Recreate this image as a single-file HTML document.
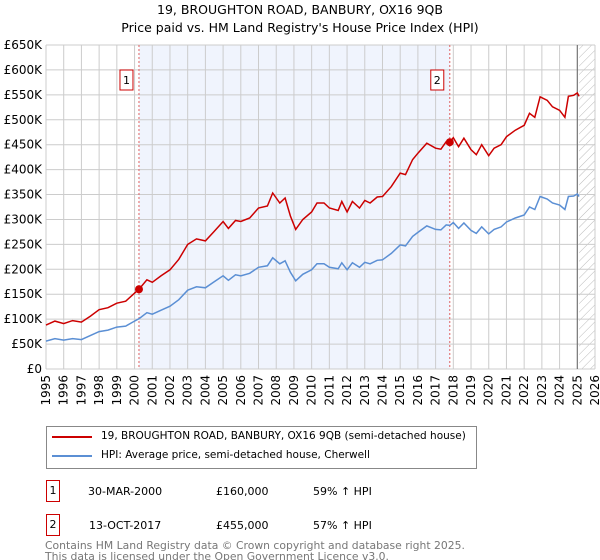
<!DOCTYPE html>
<html><head><meta charset="utf-8"><style>
body{margin:0;background:#fff;font-family:"DejaVu Sans","Liberation Sans",sans-serif;}
#wrap{position:relative;width:600px;height:560px;overflow:hidden}
.t{position:absolute;white-space:nowrap;font-size:11px;color:#000}
</style></head><body><div id="wrap">
<div class="t" style="left:0;width:600px;text-align:center;top:1px;font-size:12.5px;line-height:18px">19, BROUGHTON ROAD, BANBURY, OX16 9QB<br>Price paid vs. HM Land Registry's House Price Index (HPI)</div>
<svg id="c" width="600" height="420" style="position:absolute;left:0;top:0;font-family:'DejaVu Sans',sans-serif"></svg>
<div style="position:absolute;left:46px;top:426px;width:429px;height:41px;border:1px solid #888">
<div style="position:absolute;left:5px;top:9px;width:40px;height:2px;background:#cc0000"></div>
<div class="t" style="left:54px;top:3px;font-size:10.5px">19, BROUGHTON ROAD, BANBURY, OX16 9QB (semi-detached house)</div>
<div style="position:absolute;left:5px;top:28px;width:40px;height:2px;background:#5b8fd4"></div>
<div class="t" style="left:54px;top:22px;font-size:10.5px">HPI: Average price, semi-detached house, Cherwell</div>
</div>
<div>
<div class="t" style="left:46px;top:480px;width:12px;height:20px;border:1px solid #cc0000;text-align:center;line-height:20px">1</div>
<div class="t" style="left:88px;top:485px">30-MAR-2000</div>
<div class="t" style="left:216px;top:485px">£160,000</div>
<div class="t" style="left:313px;top:485px">59% ↑ HPI</div></div>
<div>
<div class="t" style="left:46px;top:514px;width:12px;height:20px;border:1px solid #cc0000;text-align:center;line-height:20px">2</div>
<div class="t" style="left:89px;top:519px">13-OCT-2017</div>
<div class="t" style="left:216px;top:519px">£455,000</div>
<div class="t" style="left:313px;top:519px">57% ↑ HPI</div></div>
<div class="t" style="left:45px;top:540px;color:#777;line-height:11px;font-size:10.8px">Contains HM Land Registry data © Crown copyright and database right 2025.<br>This data is licensed under the Open Government Licence v3.0.</div>
</div>
<script>
const years=[1995,1995.5,1996,1996.5,1997,1997.5,1998,1998.5,1999,1999.5,2000,2000.25,2000.7,2001,2001.5,2002,2002.5,2003,2003.5,2004,2004.5,2005,2005.3,2005.7,2006,2006.5,2007,2007.5,2007.8,2008.2,2008.5,2008.8,2009.1,2009.5,2010,2010.3,2010.7,2011,2011.5,2011.7,2012,2012.3,2012.7,2013,2013.3,2013.7,2014,2014.5,2015,2015.3,2015.7,2016,2016.5,2017,2017.3,2017.6,2017.8,2018,2018.3,2018.6,2019,2019.3,2019.6,2020,2020.3,2020.7,2021,2021.5,2022,2022.3,2022.6,2022.9,2023.3,2023.6,2024,2024.3,2024.5,2024.8,2025,2025.1];
const redVals=[88,96,91,97,94,106,119,123,132,136,152,160,179,174,187,199,220,250,261,257,276,296,282,298,296,303,323,327,353,333,343,307,280,300,315,333,333,323,318,336,315,336,323,338,333,345,346,366,393,390,420,433,453,443,441,456,455,464,446,463,440,430,450,428,443,450,466,479,489,513,505,546,539,526,519,505,547,549,554,547];
const blueVals=[56,61,58,61,59,67,75,78,84,86,96,101,113,110,118,126,139,158,165,163,175,187,178,189,187,192,204,207,223,211,217,194,177,190,199,211,211,204,201,213,199,213,204,214,211,218,219,232,249,247,266,274,287,280,279,289,288,294,282,293,278,272,285,271,280,285,295,303,309,325,320,346,341,333,329,320,346,347,351,346];
const yTicks=[0,50,100,150,200,250,300,350,400,450,500,550,600,650];
const xTicks=[1995,1996,1997,1998,1999,2000,2001,2002,2003,2004,2005,2006,2007,2008,2009,2010,2011,2012,2013,2014,2015,2016,2017,2018,2019,2020,2021,2022,2023,2024,2025,2026];
const saleYears=[2000.25,2017.8];
const salePrices=[160,455];
const saleLabels=["1","2"];
const L=46,R=595,T=45,B=369;
const X=y=>L+(y-1995)/(2026-1995)*(R-L);
const Y=v=>B-v/650*(B-T);
const s=document.getElementById('c');const NS='http://www.w3.org/2000/svg';
function mk(tag,at,name){const e=document.createElementNS(NS,tag);for(const k in at)e.setAttribute(k,at[k]);


s.appendChild(e);return e;}
mk('rect',{x:X(saleYears[0]),y:T,width:X(saleYears[1])-X(saleYears[0]),height:B-T,fill:'#f0f4fd'},'sale-period-shade');
const d=mk('defs',{},'defs');d.innerHTML='<pattern id="h" width="6" height="6" patternUnits="userSpaceOnUse" patternTransform="rotate(45)"><line x1="0" y1="0" x2="0" y2="6" stroke="#bbb" stroke-width="1"/></pattern>';
mk('rect',{x:X(2025.1),y:T,width:R-X(2025.1),height:B-T,fill:'url(#h)'},'forecast-hatch');
yTicks.forEach(v=>{mk('line',{x1:L,x2:R,y1:Y(v),y2:Y(v),stroke:'#ccc'},'y-gridline');
const t=mk('text',{x:L-4,y:Y(v)+4,'text-anchor':'end','font-size':12,fill:'#000'},'y-tick-label');t.textContent=v?'£'+v+'K':'£0';});
xTicks.forEach(y=>{mk('line',{x1:X(y),x2:X(y),y1:T,y2:B,stroke:'#ccc'},'x-gridline');
const t=mk('text',{x:0,y:0,'text-anchor':'end','font-size':12,fill:'#000',transform:`translate(${X(y)+4},${B+6}) rotate(-90)`},'x-tick-label');t.textContent=y;});
mk('line',{x1:X(2025),x2:X(2025),y1:T,y2:B,stroke:'#666'},'latest-data-line');
saleYears.forEach((y,i)=>{mk('line',{x1:X(y),x2:X(y),y1:T,y2:B,stroke:'#e06060','stroke-dasharray':'2,2'},'sale-line');
mk('rect',{x:X(y)-19,y:70,width:13,height:20,fill:'#fff',stroke:'#cc0000'},'sale-marker-box');
const t=mk('text',{x:X(y)-12.5,y:84,'text-anchor':'middle','font-size':11},'sale-marker-label');t.textContent=saleLabels[i];});
const pts=a=>a.map((v,i)=>X(years[i]).toFixed(1)+','+Y(v).toFixed(1)).join(' ');
mk('polyline',{points:pts(blueVals),fill:'none',stroke:'#5b8fd4','stroke-width':1.5},'hpi-line');
mk('polyline',{points:pts(redVals),fill:'none',stroke:'#cc0000','stroke-width':1.5},'property-price-line');
saleYears.forEach((y,i)=>mk('circle',{cx:X(y),cy:Y(salePrices[i]),r:4,fill:'#cc0000'},'sale-point'));
</script></body></html>
